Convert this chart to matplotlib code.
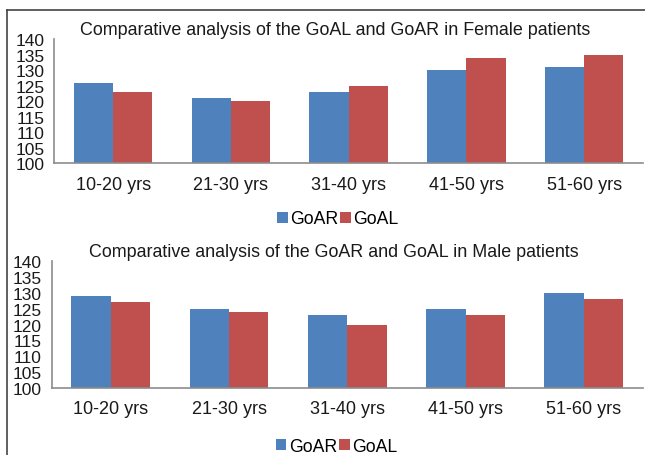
import numpy as np
import matplotlib.pyplot as plt
from matplotlib.lines import Line2D

plt.rcParams["font.family"] = ["Liberation Sans", "DejaVu Sans"]

groups = ["10-20 yrs", "21-30 yrs", "31-40 yrs", "41-50 yrs", "51-60 yrs"]
female_goar = [126, 121, 123, 130, 131]
female_goal = [123, 120, 125, 134, 135]
male_goar = [129, 125, 123, 125, 130]
male_goal = [127, 124, 120, 123, 128]
yticks = [100, 105, 110, 115, 120, 125, 130, 135, 140]

blue = "#4F81BD"
red = "#C0504D"
axis_gray = "#8C8C8C"

fig = plt.figure(figsize=(6.45, 4.56), dpi=100)


def panel(rect, title, goar, goal, legend_y):
    ax = fig.add_axes(rect)
    x = np.arange(len(groups))
    w = 1 / 3
    ax.bar(x - w / 2, goar, width=w, color=blue, label="GoAR")
    ax.bar(x + w / 2, goal, width=w, color=red, label="GoAL")
    ax.set_ylim(100, 140)
    ax.set_xlim(-0.5, len(groups) - 0.5)
    ax.set_yticks(yticks)
    ax.set_xticks(x)
    ax.set_xticklabels(groups)
    ax.tick_params(axis="both", length=0, colors="#1a1a1a")
    ax.tick_params(axis="x", pad=9, labelsize=13)
    ax.tick_params(axis="y", pad=7, labelsize=12.5)
    for s in ["top", "right"]:
        ax.spines[s].set_visible(False)
    for s in ["left", "bottom"]:
        ax.spines[s].set_color(axis_gray)
        ax.spines[s].set_linewidth(1.2)
    ax.set_title(title, fontsize=12.9, color="#1a1a1a", pad=4, x=0.477)
    ax.legend(loc="center", bbox_to_anchor=(0.482, legend_y), ncol=2,
              frameon=False, fontsize=12.7, handlelength=0.6, handleheight=0.6,
              handletextpad=0.15, columnspacing=0.1, borderaxespad=0)
    return ax


panel([0.084, 0.640, 0.913, 0.272],
      "Comparative analysis of the GoAL and GoAR in Female patients",
      female_goar, female_goal, -0.45)
panel([0.080, 0.147, 0.917, 0.278],
      "Comparative analysis of the GoAR and GoAL in Male patients",
      male_goar, male_goal, -0.46)

# outer frame (top and left edges)
fig.add_artist(Line2D([0.011, 1.0], [1 - 11 / 456] * 2, color="#444444", lw=1.2))
fig.add_artist(Line2D([0.011, 0.011], [0, 1 - 11 / 456], color="#444444", lw=1.2))

fig.savefig("out.png", dpi=100)
